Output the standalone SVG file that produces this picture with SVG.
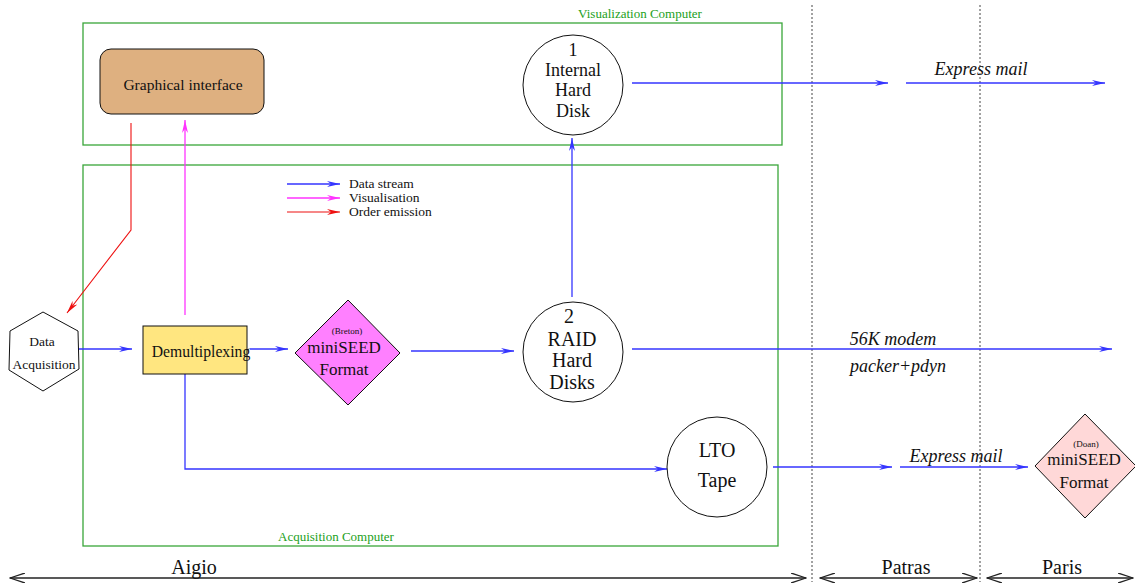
<svg xmlns="http://www.w3.org/2000/svg" width="1135" height="587" viewBox="0 0 1135 587" font-family="'Liberation Serif', 'DejaVu Serif', serif">
<style>
text{font-family:'Liberation Serif','DejaVu Serif',serif;fill:#111}
.grp{fill:none;stroke:#3aa63a;stroke-width:1.3}
.glab{fill:#22a022;font-size:13px}
.blue{fill:none;stroke:#3535ff;stroke-width:1.3}
.mag{fill:none;stroke:#ff33ff;stroke-width:1.3}
.red{fill:none;stroke:#ee1111;stroke-width:1.1}
.node{stroke:#111;stroke-width:1}
.dot{stroke:#444;stroke-width:1;stroke-dasharray:2,2}
.it{font-style:italic;font-size:18px}
.big{font-size:20px}
.dim{fill:none;stroke:#222;stroke-width:1.3}
</style>
<defs>
<marker id="ab" markerWidth="14" markerHeight="8" refX="13" refY="4" orient="auto" markerUnits="userSpaceOnUse"><path d="M0,1 L13,4 L0,7 L4,4 z" fill="#3535ff"/></marker>
<marker id="am" markerWidth="14" markerHeight="8" refX="13" refY="4" orient="auto" markerUnits="userSpaceOnUse"><path d="M0,1 L13,4 L0,7 L4,4 z" fill="#ff33ff"/></marker>
<marker id="ar" markerWidth="14" markerHeight="8" refX="13" refY="4" orient="auto" markerUnits="userSpaceOnUse"><path d="M0,1 L13,4 L0,7 L4,4 z" fill="#ee1111"/></marker>
<marker id="ak" markerWidth="16" markerHeight="10" refX="15" refY="5" orient="auto-start-reverse" markerUnits="userSpaceOnUse"><path d="M0,0 L15,5 L0,10" fill="none" stroke="#222" stroke-width="1.3"/></marker>
</defs>
<rect width="1135" height="587" fill="#fff"/>

<g id="visualization-computer">
<rect class="grp" x="83" y="23" width="699" height="122"/>
<text class="glab" x="640" y="18" text-anchor="middle">Visualization Computer</text>
</g>
<g id="acquisition-computer">
<rect class="grp" x="83" y="165" width="695" height="381"/>
<text class="glab" x="336" y="541" font-size="12.5" text-anchor="middle">Acquisition Computer</text>
</g>

<g id="dividers">
<line class="dot" x1="812" y1="5" x2="812" y2="582"/>
<line class="dot" x1="980" y1="5" x2="980" y2="582"/>
</g>

<g id="connectors">
<path class="red" d="M131,123 L131,230 L67,313" marker-end="url(#ar)"/>
<path class="mag" d="M185,315 L185,120" marker-end="url(#am)"/>
<path class="blue" d="M78,349 L132,349" marker-end="url(#ab)"/>
<path class="blue" d="M250,349 L288,349" marker-end="url(#ab)"/>
<path class="blue" d="M411,351 L514,351" marker-end="url(#ab)"/>
<path class="blue" d="M572,297 L572,138" marker-end="url(#ab)"/>
<path class="blue" d="M632,83 L888,83" marker-end="url(#ab)"/>
<path class="blue" d="M906,83 L1105,83" marker-end="url(#ab)"/>
<path class="blue" d="M632,349 L1112,349" marker-end="url(#ab)"/>
<path class="blue" d="M185,374 L185,469 L667,469" marker-end="url(#ab)"/>
<path class="blue" d="M773,467 L892,467" marker-end="url(#ab)"/>
<path class="blue" d="M900,467 L1028,467" marker-end="url(#ab)"/>
<text class="it" x="981" y="75" text-anchor="middle">Express mail</text>
<text class="it" x="893" y="345" text-anchor="middle">56K modem</text>
<text class="it" x="898" y="372" text-anchor="middle">packer+pdyn</text>
<text class="it" x="956" y="462" text-anchor="middle">Express mail</text>
</g>

<g id="legend">
<line class="blue" x1="287" y1="184" x2="340" y2="184" marker-end="url(#ab)"/>
<line class="mag" x1="287" y1="198" x2="340" y2="198" marker-end="url(#am)"/>
<line class="red" x1="287" y1="212" x2="340" y2="212" marker-end="url(#ar)"/>
<text x="349" y="188" font-size="13.5">Data stream</text>
<text x="349" y="202" font-size="13.5">Visualisation</text>
<text x="349" y="216" font-size="13.5">Order emission</text>
</g>

<g id="graphical-interface">
<rect class="node" x="100" y="49" width="164" height="65" rx="11" fill="#deb080"/>
<text x="183" y="90" font-size="15.5" text-anchor="middle">Graphical interface</text>
</g>

<g id="internal-hard-disk">
<circle class="node" cx="573" cy="85" r="50" fill="#fff"/>
<text x="573" y="56" font-size="18" text-anchor="middle">1</text>
<text x="573" y="76" font-size="18" text-anchor="middle">Internal</text>
<text x="573" y="96" font-size="18" text-anchor="middle">Hard</text>
<text x="573" y="117" font-size="18" text-anchor="middle">Disk</text>
</g>

<g id="data-acquisition">
<polygon class="node" points="43,312 78,331 79,369 43,391 9,370 10,331" fill="#fff"/>
<text x="42" y="346" font-size="13.5" text-anchor="middle">Data</text>
<text x="44" y="369" font-size="13.5" text-anchor="middle">Acquisition</text>
</g>

<g id="demultiplexing">
<rect class="node" x="143" y="326" width="104" height="48" fill="#ffe680"/>
<text x="201" y="357" font-size="15.7" text-anchor="middle">Demultiplexing</text>
</g>

<g id="breton-miniseed">
<polygon class="node" points="348,300 400,353 348,405 295,353" fill="#ff80ff"/>
<text x="347" y="334" font-size="9" text-anchor="middle">(Breton)</text>
<text x="344" y="353" font-size="17" text-anchor="middle">miniSEED</text>
<text x="344" y="375" font-size="17" text-anchor="middle">Format</text>
</g>

<g id="raid-hard-disks">
<circle class="node" cx="573" cy="352" r="50" fill="#fff"/>
<text class="big" x="569" y="323" text-anchor="middle">2</text>
<text class="big" x="572" y="346" text-anchor="middle">RAID</text>
<text class="big" x="572" y="367" text-anchor="middle">Hard</text>
<text class="big" x="572" y="389" text-anchor="middle">Disks</text>
</g>

<g id="lto-tape">
<circle class="node" cx="717" cy="467" r="50" fill="#fff"/>
<text class="big" x="717" y="457" text-anchor="middle">LTO</text>
<text class="big" x="717" y="487" text-anchor="middle">Tape</text>
</g>

<g id="doan-miniseed">
<polygon class="node" points="1085,414 1136,466 1085,518 1035,466" fill="#ffd8d8"/>
<text x="1086" y="447" font-size="9" text-anchor="middle">(Doan)</text>
<text x="1084" y="465" font-size="17" text-anchor="middle">miniSEED</text>
<text x="1084" y="488" font-size="17" text-anchor="middle">Format</text>
</g>

<g id="locations">
<line class="dim" x1="10" y1="578" x2="806" y2="578" marker-start="url(#ak)" marker-end="url(#ak)"/>
<line class="dim" x1="820" y1="578" x2="977" y2="578" marker-start="url(#ak)" marker-end="url(#ak)"/>
<line class="dim" x1="987" y1="578" x2="1133" y2="578" marker-start="url(#ak)" marker-end="url(#ak)"/>
<text x="194" y="574" font-size="20" text-anchor="middle">Aigio</text>
<text x="906" y="574" font-size="20" text-anchor="middle">Patras</text>
<text x="1062" y="574" font-size="20" text-anchor="middle">Paris</text>
</g>
</svg>
